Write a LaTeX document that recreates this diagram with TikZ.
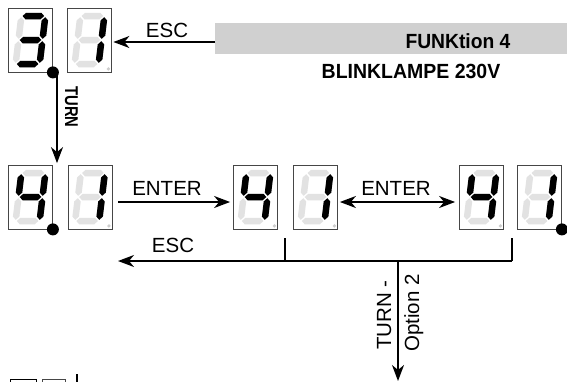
\documentclass[tikz,border=0pt]{standalone}
\usepackage{fontspec}
\setmainfont{Liberation Sans}
\usetikzlibrary{arrows.meta}
\definecolor{bandgrey}{RGB}{208,208,208}
\definecolor{segoffc}{RGB}{226,226,226}
\definecolor{boxc}{RGB}{70,70,70}
\definecolor{dpc}{RGB}{205,205,205}

\newcommand\sgA{(-10.8,-24) -- (-7.55,-27.25) -- (7.55,-27.25) -- (10.8,-24) -- (7.55,-20.75) -- (-7.55,-20.75) -- cycle}
\newcommand\sgG{(-10.8,0) -- (-7.55,-3.25) -- (7.55,-3.25) -- (10.8,0) -- (7.55,3.25) -- (-7.55,3.25) -- cycle}
\newcommand\sgD{(-10.8,24) -- (-7.55,20.75) -- (7.55,20.75) -- (10.8,24) -- (7.55,27.25) -- (-7.55,27.25) -- cycle}
\newcommand\sgB{(12,-22.8) -- (15.25,-19.55) -- (15.25,-4.45) -- (12,-1.2) -- (8.75,-4.45) -- (8.75,-19.55) -- cycle}
\newcommand\sgC{(12,1.2) -- (15.25,4.45) -- (15.25,19.55) -- (12,22.8) -- (8.75,19.55) -- (8.75,4.45) -- cycle}
\newcommand\sgF{(-12,-22.8) -- (-8.75,-19.55) -- (-8.75,-4.45) -- (-12,-1.2) -- (-15.25,-4.45) -- (-15.25,-19.55) -- cycle}
\newcommand\sgE{(-12,1.2) -- (-8.75,4.45) -- (-8.75,19.55) -- (-12,22.8) -- (-15.25,19.55) -- (-15.25,4.45) -- cycle}

\newcommand\segdigit[3]{%
  \node[dbox] (#1) at (#2) {};
  \begin{scope}[shift={(#1.center)},xslant=0.12]
    \foreach \s in {\sgA,\sgB,\sgC,\sgD,\sgE,\sgF,\sgG}{\fill[segoffc] \s;}
    \foreach \s in {#3}{\fill[black] \s;}
  \end{scope}
  \fill[dpc] ([shift={(-3.5,-3.5)}]#1.south east) circle (1.8pt);
}

\tikzset{
  dbox/.style={draw=boxc, line width=0.8pt, fill=white, minimum width=44pt, minimum height=64pt, inner sep=0pt},
  ln/.style={line width=1.6pt},
  arr/.style={line width=1.6pt, -{Stealth[length=16pt,width=12pt,inset=5pt]}},
  darr/.style={line width=1.6pt, {Stealth[length=16pt,width=12pt,inset=5pt]}-{Stealth[length=16pt,width=12pt,inset=5pt]}},
  lbl/.style={inner sep=0pt, anchor=base, font=\fontsize{20.5}{20.5}\selectfont},
  blbl/.style={inner sep=0pt, anchor=base, font=\fontsize{20.5}{20.5}\selectfont\bfseries},
  band/.style={fill=bandgrey, draw=none, minimum width=352pt, minimum height=31pt, inner sep=0pt},
}

\begin{document}
\begin{tikzpicture}[x=1pt,y=-1pt]
\useasboundingbox (0,0) rectangle (567,381);

% grey band and titles
\node[band] (band) at (391,38.5) {};
\node[blbl] (funk) at (458,48) {\scalebox{0.94}[1]{FUNKtion 4}};
\node[blbl] (blink) at (411,78) {\scalebox{0.95}[1]{BLINKLAMPE 230V}};

% digits row 1
\segdigit{r1a}{30.5,40}{\sgA,\sgB,\sgC,\sgD,\sgG}
\segdigit{r1b}{89.5,40}{\sgB,\sgC}
% digits row 2
\segdigit{r2a}{30.5,197}{\sgB,\sgC,\sgF,\sgG}
\segdigit{r2b}{90,197}{\sgB,\sgC}
\segdigit{r2c}{255.5,197}{\sgB,\sgC,\sgF,\sgG}
\segdigit{r2d}{315.5,197}{\sgB,\sgC}
\segdigit{r2e}{481.5,197}{\sgB,\sgC,\sgF,\sgG}
\segdigit{r2f}{539.5,197}{\sgB,\sgC}

% black dots
\fill (r1a.south east) circle (6pt);
\fill (r2a.south east) circle (6pt);
\fill (r2f.south east) circle (6pt);

% ESC from band
\coordinate (escfrom) at (215,42);
\draw[arr, shorten >=1.5pt] (escfrom) -- (escfrom -| r1b.east);
\node[lbl] (esc1) at (167,37) {ESC};

% TURN down
\coordinate (t1) at (57,72);
\draw[arr, shorten >=1.5pt] (t1) -- (t1 |- r2a.north);
\node[blbl, rotate=-90, font=\fontsize{18.5}{18.5}\selectfont\bfseries] (turn1) at (65,107) {\scalebox{0.8}[1]{TURN}};

% ENTER arrows
\draw[arr, shorten <=6pt, shorten >=3pt] ([yshift=-5pt]r2b.east) -- ([yshift=-5pt]r2c.west);
\node[lbl] (enter1) at (167,195) {ENTER};
\draw[darr, shorten <=2pt, shorten >=4pt] ([yshift=-5pt]r2d.east) -- ([yshift=-5pt]r2e.west);
\node[lbl] (enter2) at (396,195) {ENTER};

% bracket and ESC
\coordinate (bl) at (285,238);
\coordinate (br) at (512,238);
\coordinate (hl) at (118,261);
\coordinate (hr) at (512,261);
\coordinate (hb) at (285,261);
\coordinate (hm) at (398,261);
\coordinate (bot) at (398,381);
\draw[ln] (bl) -- (hb);
\draw[ln] (br) -- (hr);
\draw[arr] (hr) -- (hl);
\node[lbl] (esc2) at (173,252) {ESC};

% TURN - Option 2
\draw[arr] (hm) -- (bot);
\node[lbl, rotate=90] (turn2) at (391,315) {TURN -};
\node[lbl, rotate=90] (opt2) at (419,313) {Option 2};

% clipped elements at the bottom edge
\draw[draw=black, line width=0.8pt] (10,383) -- (10,379) -- (36,379) -- (36,383);
\draw[draw=boxc, line width=0.8pt] (42,383) -- (42,379) -- (65,379) -- (65,383);
\draw[line width=1.6pt] (77,374) -- (77,383);
\end{tikzpicture}
\end{document}
